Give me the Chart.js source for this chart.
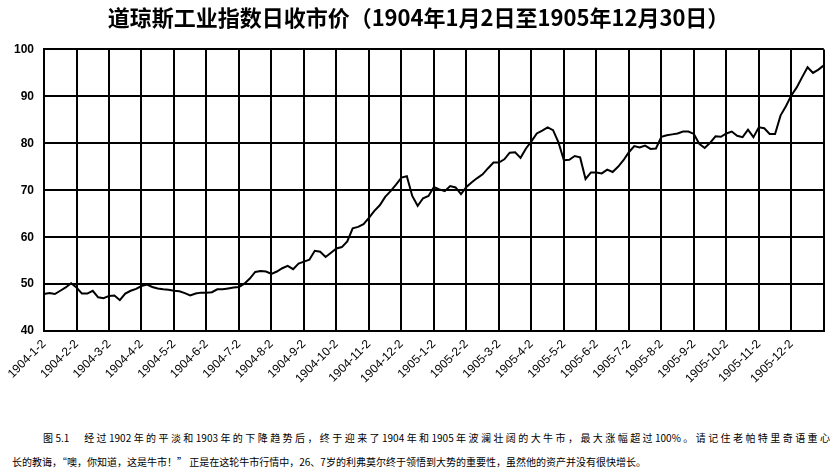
<!DOCTYPE html>
<html>
<head>
<meta charset="utf-8">
<script src="https://cdn.jsdelivr.net/npm/chart.js@4.4.0/dist/chart.umd.min.js"></script>
<style>
  html, body { margin: 0; padding: 0; background: #fff; }
  #wrap { position: relative; width: 840px; height: 473px; overflow: hidden; background: #fff; }
  #chartBox { position: absolute; left: 0; top: 0; width: 840px; height: 392px; }
  .cap { position: absolute; font-family: "Noto Sans CJK SC", sans-serif; font-size: 10px; color: #000; white-space: nowrap; line-height: 14px; }
  #cap1 { left: 43px; top: 431px; width: 787px; text-align: justify; text-align-last: justify; }
  #cap2 { left: 12px; top: 455px; }
</style>
</head>
<body>
<div id="wrap">
  <div id="chartBox"><canvas id="c"></canvas></div>
  <div class="cap" id="cap1">图5.1　经过1902年的平淡和1903年的下降趋势后，终于迎来了1904年和1905年波澜壮阔的大牛市，最大涨幅超过100%。请记住老帕特里奇语重心</div>
  <div class="cap" id="cap2">长的教诲，“噢，你知道，这是牛市！” 正是在这轮牛市行情中，26、7岁的利弗莫尔终于领悟到大势的重要性，虽然他的资产并没有很快增长。</div>
</div>
<script>
// Tick labels (first trading day of each month)
const monthLabels = [
  '1904-1-2','1904-2-2','1904-3-2','1904-4-2','1904-5-2','1904-6-2',
  '1904-7-2','1904-8-2','1904-9-2','1904-10-2','1904-11-2','1904-12-2',
  '1905-1-2','1905-2-2','1905-3-2','1905-4-2','1905-5-2','1905-6-2',
  '1905-7-2','1905-8-2','1905-9-2','1905-10-2','1905-11-2','1905-12-2'
];
// Sample days within each month (values read at these dates)
const sampleDays = [2, 7, 12, 17, 22, 27];
const lastDate = '1905-12-30';

// Dow Jones Industrial Average closing values
const closes = [
  // 1904-1
  47.9, 48.1, 47.9, 48.6, 49.3, 50.2,
  // 1904-2
  49.3, 48.0, 48.0, 48.6, 47.2, 47.0,
  // 1904-3
  47.5, 47.6, 46.6, 48.0, 48.6, 49.0,
  // 1904-4
  49.6, 49.9, 49.4, 49.1, 48.9, 48.8,
  // 1904-5
  48.6, 48.5, 48.1, 47.6, 48.0, 48.2,
  // 1904-6
  48.2, 48.3, 48.9, 48.9, 49.1, 49.3,
  // 1904-7
  49.4, 50.1, 51.2, 52.6, 52.8, 52.7,
  // 1904-8
  52.2, 52.7, 53.4, 53.9, 53.2, 54.4,
  // 1904-9
  54.8, 55.2, 57.1, 56.9, 55.8, 56.7,
  // 1904-10
  57.6, 57.9, 59.1, 61.9, 62.2, 62.8,
  // 1904-11
  64.1, 65.6, 66.8, 68.6, 69.8, 71.2,
  // 1904-12
  72.7, 73.0, 68.8, 66.7, 68.3, 68.8,
  // 1905-1
  70.7, 70.2, 69.8, 70.9, 70.6, 69.2,
  // 1905-2
  70.7, 71.7, 72.6, 73.4, 74.7, 75.9,
  // 1905-3
  75.9, 76.6, 78.0, 78.1, 76.9, 78.9,
  // 1905-4
  80.4, 82.1, 82.7, 83.4, 82.8, 80.2,
  // 1905-5
  76.4, 76.5, 77.3, 77.0, 72.4, 73.8,
  // 1905-6
  73.8, 73.6, 74.4, 73.9, 75.0, 76.4,
  // 1905-7
  78.1, 79.4, 79.1, 79.5, 78.8, 78.9,
  // 1905-8
  81.4, 81.7, 81.9, 82.1, 82.5, 82.5,
  // 1905-9
  82.0, 79.9, 79.0, 80.1, 81.5, 81.4,
  // 1905-10
  82.1, 82.5, 81.6, 81.3, 82.9, 81.3,
  // 1905-11
  83.4, 83.2, 82.0, 82.0, 85.9, 87.9,
  // 1905-12
  90.2, 91.9, 94.1, 96.2, 95.0, 95.7,
  // 1905-12-30
  96.6
];
const yTicks = [40, 50, 60, 70, 80, 90, 100];

// Build category labels (dates) from month labels and sample days
const dates = [];
monthLabels.forEach(m => {
  const ym = m.slice(0, m.lastIndexOf('-'));
  sampleDays.forEach(d => dates.push(ym + '-' + d));
});
dates.push(lastDate);
const perMonth = sampleDays.length;

new Chart(document.getElementById('c'), {
  type: 'line',
  data: {
    labels: dates,
    datasets: [{
      data: closes,
      borderColor: '#000',
      borderWidth: 2,
      pointRadius: 0,
      tension: 0,
      fill: false
    }]
  },
  options: {
    responsive: true,
    maintainAspectRatio: false,
    animation: false,
    layout: { padding: { left: 4, right: 7, top: 0, bottom: 0 } },
    plugins: {
      legend: { display: false },
      tooltip: { enabled: false },
      title: {
        display: true,
        text: '道琼斯工业指数日收市价（1904年1月2日至1905年12月30日）',
        color: '#000',
        font: { family: '"Noto Sans CJK SC", sans-serif', size: 22, weight: 'bold' },
        padding: { top: 4, bottom: 19 }
      }
    },
    scales: {
      x: {
        type: 'category',
        offset: false,
        grid: {
          drawTicks: false,
          lineWidth: 2,
          color: ctx => (ctx.index % perMonth === 0 ? '#000' : 'rgba(0,0,0,0)')
        },
        border: { display: true, color: '#000', width: 2 },
        ticks: {
          autoSkip: false,
          minRotation: 45,
          maxRotation: 45,
          padding: 6,
          color: '#000',
          font: { family: '"Liberation Sans", sans-serif', size: 12 },
          callback: function (value, index) {
            if (index % perMonth === 0 && index < dates.length - 1) {
              return monthLabels[index / perMonth];
            }
            return '';
          }
        }
      },
      y: {
        min: yTicks[0],
        max: yTicks[yTicks.length - 1],
        afterBuildTicks: axis => { axis.ticks = yTicks.map(v => ({ value: v })); },
        grid: { drawTicks: false, lineWidth: 2, color: '#000' },
        border: { display: true, color: '#000', width: 2 },
        ticks: {
          padding: 10,
          color: '#000',
          font: { family: '"Liberation Sans", sans-serif', size: 12, weight: 'bold' }
        }
      }
    }
  }
});
</script>
</body>
</html>
